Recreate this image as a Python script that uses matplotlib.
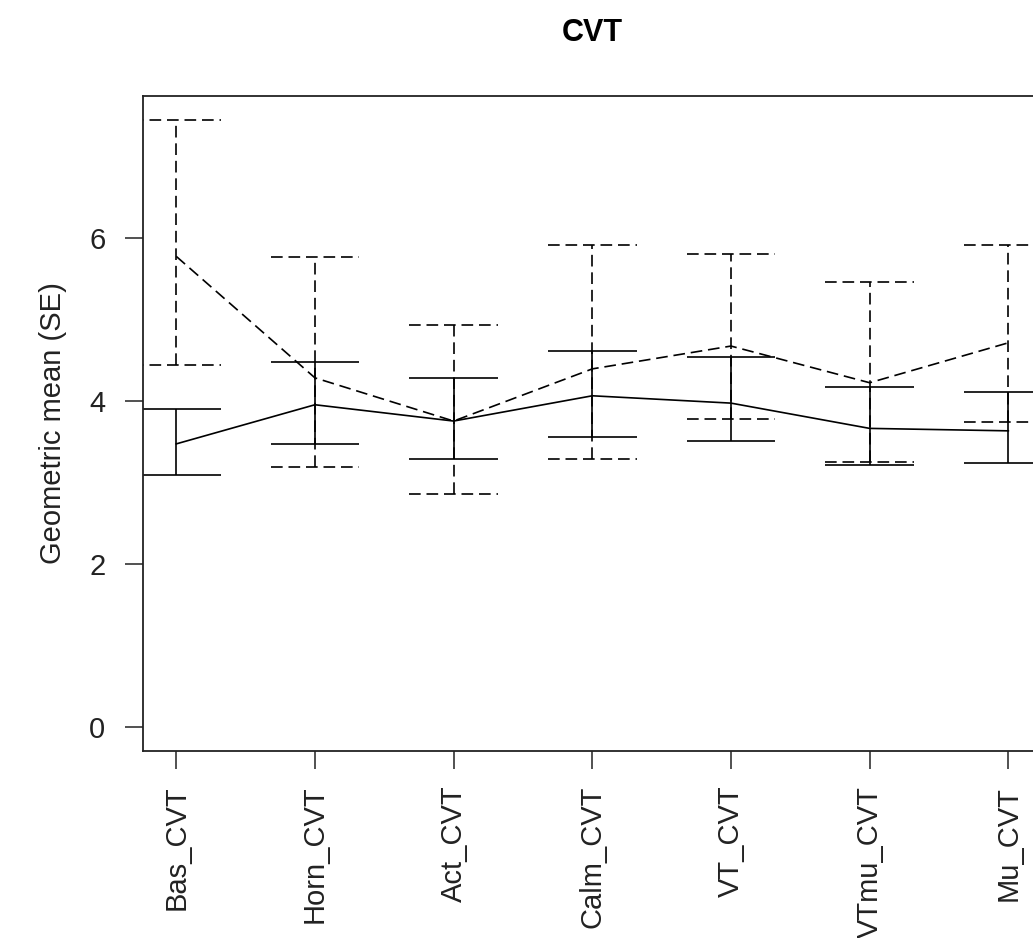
import matplotlib
matplotlib.use('Agg')
import matplotlib.pyplot as plt
import numpy as np

plt.rcParams['font.family'] = ['Liberation Sans', 'DejaVu Sans']

# categories
labels = ['Bas_CVT', 'Horn_CVT', 'Act_CVT', 'Calm_CVT', 'VT_CVT', 'VTmu_CVT', 'Mu_CVT']

# solid series: geometric mean with SE limits
solid_mean = [3.47, 3.95, 3.75, 4.06, 3.97, 3.66, 3.63]
solid_lo = [3.09, 3.47, 3.28, 3.56, 3.50, 3.21, 3.23]
solid_hi = [3.90, 4.48, 4.28, 4.61, 4.53, 4.17, 4.11]

# dashed series
dash_mean = [5.77, 4.28, 3.75, 4.39, 4.67, 4.22, 4.71]
dash_lo = [4.44, 3.19, 2.85, 3.28, 3.77, 3.25, 3.74]
dash_hi = [7.44, 5.76, 4.93, 5.91, 5.80, 5.45, 5.91]

yticks = [0, 2, 4, 6]

x = np.arange(1, len(labels) + 1)
cap = 0.32
lw = 1.2
dash = (0, (7, 3.5))

fig = plt.figure(figsize=(10.33, 9.38), dpi=100)
ax = fig.add_axes([143 / 1033, 187 / 938, 898.6 / 1033, 655 / 938])

# solid
ax.plot(x, solid_mean, color='black', lw=lw)
ax.vlines(x, solid_lo, solid_hi, color='black', lw=lw)
ax.hlines(solid_lo, x - cap, x + cap, color='black', lw=lw)
ax.hlines(solid_hi, x - cap, x + cap, color='black', lw=lw)

# dashed
ax.plot(x, dash_mean, color='black', lw=lw, linestyle=dash)
ax.vlines(x, dash_lo, dash_hi, color='black', lw=lw, linestyle=dash)
ax.hlines(dash_lo, x - cap, x + cap, color='black', lw=lw, linestyle=dash)
ax.hlines(dash_hi, x - cap, x + cap, color='black', lw=lw, linestyle=dash)

# R style 4% padding
xr = x[-1] - x[0]
ax.set_xlim(x[0] - 0.04 * xr, x[-1] + 0.04 * xr)
top = max(dash_hi)
ax.set_ylim(-0.04 * top, top * 1.04)

ax.set_xticks(x)
ax.set_xticklabels(labels, rotation=90, fontsize=21)
ax.set_yticks(yticks)
ax.set_yticklabels([str(v) for v in yticks], fontsize=21)
ax.tick_params(axis='both', length=13, width=1.1, color='#222222', labelcolor='#222222')
ax.tick_params(axis='y', pad=14)
ax.tick_params(axis='x', pad=12)
for s in ax.spines.values():
    s.set_linewidth(1.3)
    s.set_color('#222222')

ax.set_ylabel('Geometric mean (SE)', fontsize=21, labelpad=16, color='#222222')
fig.text((143 + 1041.6) / 2 / 1033, 1 - 33 / 938, 'CVT', fontsize=22, fontweight='bold',
         ha='center', va='center')

fig.savefig('out.png', dpi=100)
